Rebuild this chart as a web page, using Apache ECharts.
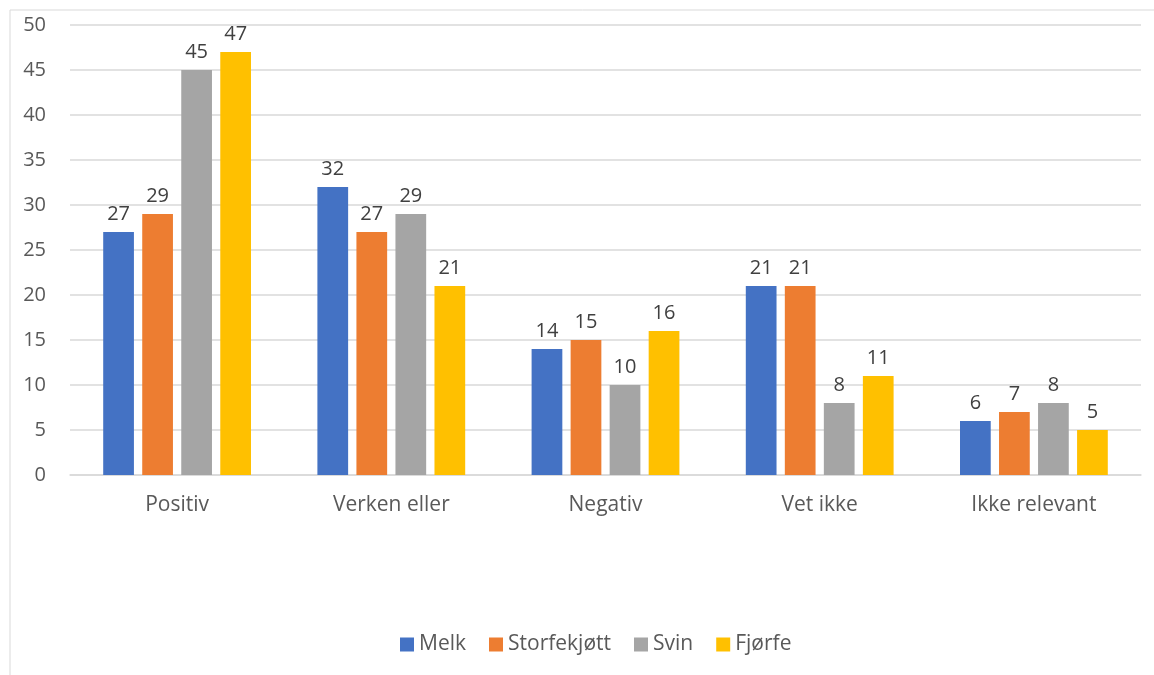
<!DOCTYPE html>
<html><head><meta charset="utf-8">
<script src="https://cdn.jsdelivr.net/npm/echarts@6/dist/echarts.min.js"></script>
<style>html,body{margin:0;padding:0;background:#fff}#c{width:1154px;height:675px}</style>
</head><body><div id="c"></div>
<script>
const categories = ['Positiv', 'Verken eller', 'Negativ', 'Vet ikke', 'Ikke relevant'];
const melk = [27, 32, 14, 21, 6];
const storfekjott = [29, 27, 15, 21, 7];
const svin = [45, 29, 10, 8, 8];
const fjorfe = [47, 21, 16, 11, 5];
const seriesNames = ['Melk', 'Storfekjøtt', 'Svin', 'Fjørfe'];
const colors = ['#4472C4', '#ED7D31', '#A5A5A5', '#FFC000'];
const yTicks = {min: 0, max: 50, interval: 5};

const font = '"Open Sans", "Noto Sans", sans-serif';
const chart = echarts.init(document.getElementById('c'), null, {renderer: 'canvas'});
const datasets = [melk, storfekjott, svin, fjorfe];
chart.setOption({
  animation: false,
  backgroundColor: '#fff',
  textStyle: {fontFamily: font},
  graphic: [{type: 'rect', shape: {x: 10, y: 10, width: 1160, height: 680}, style: {fill: 'none', stroke: '#d9d9d9', lineWidth: 1}, silent: true}],
  grid: {left: 70, right: 13, top: 25, bottom: 200},
  legend: {
    bottom: 15, left: 395, itemWidth: 14, itemHeight: 14, itemGap: 23,
    icon: 'rect',
    textStyle: {fontSize: 21, color: '#595959', fontFamily: font}
  },
  xAxis: {
    type: 'category', data: categories,
    axisLine: {lineStyle: {color: '#d9d9d9', width: 1.5}},
    axisTick: {show: false},
    axisLabel: {fontSize: 21, color: '#595959', margin: 20, fontFamily: font}
  },
  yAxis: {
    type: 'value', min: yTicks.min, max: yTicks.max, interval: yTicks.interval,
    axisLine: {show: false}, axisTick: {show: false},
    axisLabel: {fontSize: 20, color: '#595959', margin: 24, fontFamily: font},
    splitLine: {lineStyle: {color: '#d9d9d9', width: 1.5}}
  },
  series: seriesNames.map((n, i) => ({
    name: n, type: 'bar', data: datasets[i],
    itemStyle: {color: colors[i]},
    barGap: '27%', barCategoryGap: '31%',
    label: {show: true, position: 'top', distance: 8, fontSize: 20, color: '#404040', fontFamily: font}
  }))
});
</script></body></html>
